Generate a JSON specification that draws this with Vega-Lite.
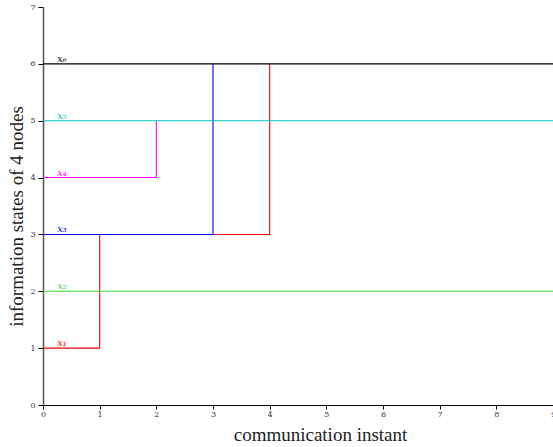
{
  "$schema": "https://vega.github.io/schema/vega-lite/v6.json",
  "autosize": "none",
  "width": 510,
  "height": 398,
  "padding": {"left": 43, "top": 7, "right": 0, "bottom": 42},
  "background": "white",
  "config": {"view": {"stroke": null}, "font": "Liberation Serif"},
  "datasets": {
    "paths": [
      {"node": "x1", "step": 0, "t": 0, "state": 1},
      {"node": "x1", "step": 1, "t": 1, "state": 1},
      {"node": "x1", "step": 2, "t": 1, "state": 3},
      {"node": "x1", "step": 3, "t": 4, "state": 3},
      {"node": "x1", "step": 4, "t": 4, "state": 6},
      {"node": "x2", "step": 0, "t": 0, "state": 2},
      {"node": "x2", "step": 1, "t": 9, "state": 2},
      {"node": "x3", "step": 0, "t": 0, "state": 3},
      {"node": "x3", "step": 1, "t": 3, "state": 3},
      {"node": "x3", "step": 2, "t": 3, "state": 6},
      {"node": "x4", "step": 0, "t": 0, "state": 4},
      {"node": "x4", "step": 1, "t": 2, "state": 4},
      {"node": "x4", "step": 2, "t": 2, "state": 5},
      {"node": "x5", "step": 0, "t": 0, "state": 5},
      {"node": "x5", "step": 1, "t": 9, "state": 5},
      {"node": "x6", "step": 0, "t": 0, "state": 6},
      {"node": "x6", "step": 1, "t": 9, "state": 6}
    ],
    "labels": [
      {"node": "x1", "text": "x₁", "state": 1},
      {"node": "x2", "text": "x₂", "state": 2},
      {"node": "x3", "text": "x₃", "state": 3},
      {"node": "x4", "text": "x₄", "state": 4},
      {"node": "x5", "text": "x₅", "state": 5},
      {"node": "x6", "text": "x₆", "state": 6}
    ]
  },
  "layer": [
    {
      "data": {"name": "paths"},
      "mark": {"type": "line", "strokeWidth": 1.1, "interpolate": "linear"},
      "encoding": {
        "x": {
          "field": "t", "type": "quantitative",
          "scale": {"domain": [0, 9], "nice": false, "zero": false},
          "axis": {
            "title": "communication instant",
            "titleFont": "Liberation Serif", "titleFontWeight": "normal", "titleFontSize": 19, "titleColor": "#222",
            "titleX": 277, "titleY": 20, "titleBaseline": "top",
            "values": [0,1,2,3,4,5,6,7,8,9], "format": "d",
            "labelFont": "DejaVu Serif", "labelFontSize": 8, "labelColor": "#333", "labelPadding": 1, "labelFlush": false,
            "tickSize": 4, "tickColor": "#000", "domainColor": "#000", "domainWidth": 1.2, "grid": false
          }
        },
        "y": {
          "field": "state", "type": "quantitative",
          "scale": {"domain": [0, 7], "nice": false, "zero": false},
          "axis": {
            "title": "information states of 4 nodes",
            "titleFont": "Liberation Serif", "titleFontWeight": "normal", "titleFontSize": 19, "titleColor": "#222",
            "titleX": -36, "titleY": 209, "titleBaseline": "top",
            "values": [0,1,2,3,4,5,6,7], "format": "d",
            "labelFont": "DejaVu Serif", "labelFontSize": 8, "labelColor": "#333", "labelPadding": 3, "labelFlush": false,
            "tickSize": 5, "tickColor": "#000", "domainColor": "#555", "domainWidth": 1.5, "grid": false
          }
        },
        "color": {
          "field": "node", "type": "nominal", "legend": null,
          "scale": {"domain": ["x1","x2","x3","x4","x5","x6"], "range": ["#ff0000","#33dd33","#0000ff","#ff00ff","#00c0c0","#000000"]}
        },
        "order": {"field": "step", "type": "quantitative"}
      }
    },
    {
      "mark": {"type": "rule", "color": "#000", "strokeWidth": 1},
      "encoding": {"y": {"datum": 7}}
    },
    {
      "data": {"name": "labels"},
      "mark": {"type": "text", "align": "left", "baseline": "alphabetic", "dy": -2, "fontStyle": "italic", "fontSize": 10, "font": "DejaVu Serif"},
      "encoding": {
        "x": {"datum": 0.25},
        "y": {"field": "state", "type": "quantitative"},
        "text": {"field": "text"},
        "color": {"field": "node", "type": "nominal", "legend": null}
      }
    }
  ]
}
